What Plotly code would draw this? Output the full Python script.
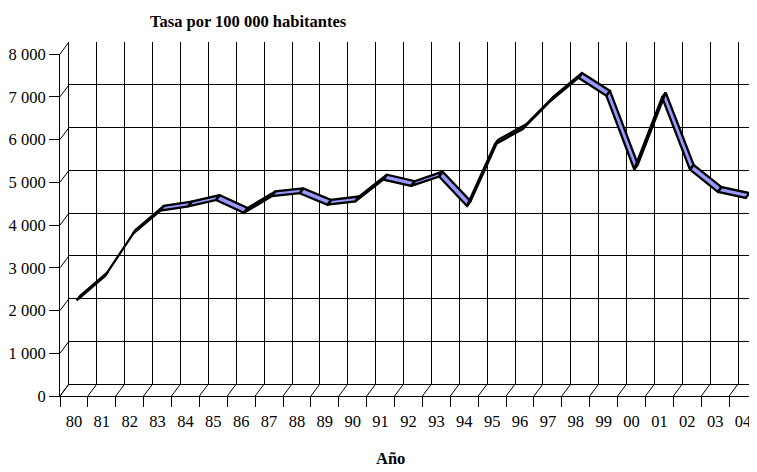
import plotly.graph_objects as go

# ---- data ----
years = ["80", "81", "82", "83", "84", "85", "86", "87", "88", "89", "90", "91", "92",
         "93", "94", "95", "96", "97", "98", "99", "00", "01", "02", "03", "04"]
rates = [2150, 2710, 3700, 4250, 4350, 4500, 4200, 4590, 4660, 4390, 4470, 4980, 4830,
         5050, 4360, 5800, 6160, 6820, 7360, 6940, 5220, 6900, 5210, 4690, 4550]
y_ticks = [0, 1000, 2000, 3000, 4000, 5000, 6000, 7000, 8000]
y_labels = ["0", "1 000", "2 000", "3 000", "4 000", "5 000", "6 000", "7 000", "8 000"]
title_text = "Tasa por 100 000 habitantes"
xaxis_title = "Año"

# ---- geometry (screen pixels) ----
SCREEN_W, SCREEN_H = 757, 472
OFF = 8                      # default page body margin
W, H = SCREEN_W - OFF, SCREEN_H - OFF
FX0, FX1 = 60, 757          # front frame x
FY0, FY1 = 396, 54          # front frame y (value 0 / value max)
DX, DY = 9, 12              # depth offset of back wall
VMAX = 8000
n = len(years)

def px(x):
    return (x - OFF) / W

def py(y):
    return (H - (y - OFF)) / H

unit_px_x = (FX1 - FX0) / n
unit_px_y = (FY0 - FY1) / VMAX
ux = DX / unit_px_x          # depth offset in category units
uy = DY / unit_px_y          # depth offset in value units

FONT = "Liberation Serif"
fig = go.Figure()

# ribbon drawn on back-wall axes, shifted toward the front
a, b = 0.3, 0.7   # ribbon depth span (fraction of depth, from front)
xs, ys = [], []
for i in range(n - 1):
    pts = [
        (i - (1 - a) * ux, rates[i] - (1 - a) * uy),
        (i + 1 - (1 - a) * ux, rates[i + 1] - (1 - a) * uy),
        (i + 1 - (1 - b) * ux, rates[i + 1] - (1 - b) * uy),
        (i - (1 - b) * ux, rates[i] - (1 - b) * uy),
        (i - (1 - a) * ux, rates[i] - (1 - a) * uy),
    ]
    for p in pts:
        xs.append(p[0]); ys.append(p[1])
    xs.append(None); ys.append(None)

fig.add_trace(go.Scatter(x=xs, y=ys, mode="lines", fill="toself",
                         fillcolor="#9999FF", line=dict(color="black", width=2.3),
                         xaxis="x2", yaxis="y2", hoverinfo="skip", showlegend=False))
# dummy trace for front axes
fig.add_trace(go.Scatter(x=[None], y=[None], xaxis="x", yaxis="y",
                         showlegend=False, hoverinfo="skip"))

boundaries = [k - 0.5 for k in range(n + 1)]

fig.update_layout(
    template="none",
    width=W, height=H,
    margin=dict(l=0, r=0, t=0, b=0, pad=0, autoexpand=False),
    paper_bgcolor="white", plot_bgcolor="rgba(0,0,0,0)",
    font=dict(family=FONT, size=16.5, color="black"),
    xaxis=dict(domain=[px(FX0), min(1, px(FX1))], range=[-0.5, n - 0.5], automargin=False,
               tickvals=list(range(n)), ticktext=years,
               ticks="outside", ticklen=10, tickcolor="rgba(0,0,0,0)",
               showline=True, linecolor="black", linewidth=1,
               showgrid=False, zeroline=False,
               minor=dict(tickvals=boundaries, ticks="outside", ticklen=10,
                          tickcolor="black", showgrid=False),
               tickfont=dict(family=FONT, size=16.5, color="black")),
    yaxis=dict(domain=[py(FY0), py(FY1)], range=[0, VMAX], automargin=False,
               tickvals=y_ticks, ticktext=y_labels,
               ticks="outside", ticklen=10, tickcolor="black",
               showline=True, linecolor="black", linewidth=1,
               showgrid=False, zeroline=False,
               tickfont=dict(family=FONT, size=16.5, color="black")),
    xaxis2=dict(domain=[px(FX0 + DX), 1], range=[-0.5, n - 0.5 - ux], automargin=False,
                anchor="y2", tickvals=boundaries[:-1], showticklabels=False,
                ticks="", showgrid=True, gridcolor="black", gridwidth=1,
                showline=True, linecolor="black", zeroline=False),
    yaxis2=dict(domain=[py(FY0 - DY), py(FY1 - DY)], range=[0, VMAX], automargin=False,
                anchor="x2", tickvals=y_ticks, showticklabels=False,
                ticks="", showgrid=True, gridcolor="black", gridwidth=1,
                showline=True, linecolor="black", zeroline=False),
)

shapes = []
# left wall diagonals
for v in y_ticks:
    yf = FY0 - v * unit_px_y
    shapes.append(dict(type="line", xref="paper", yref="paper",
                       x0=px(FX0), y0=py(yf), x1=px(FX0 + DX), y1=py(yf - DY),
                       line=dict(color="black", width=1)))
# floor diagonals
for k in boundaries:
    xf = FX0 + (k + 0.5) * unit_px_x
    shapes.append(dict(type="line", xref="paper", yref="paper",
                       x0=px(xf), y0=py(FY0), x1=px(xf + DX), y1=py(FY0 - DY),
                       line=dict(color="black", width=1)))
fig.update_layout(shapes=shapes)

fig.add_annotation(text="<b>" + title_text + "</b>", xref="paper", yref="paper",
                   x=px(249), y=py(21), xanchor="center", yanchor="middle",
                   showarrow=False, font=dict(family=FONT, size=16.5, color="black"))
fig.add_annotation(text="<b>" + xaxis_title + "</b>", xref="paper", yref="paper",
                   x=px(390), y=py(458), xanchor="center", yanchor="middle",
                   showarrow=False, font=dict(family=FONT, size=16.5, color="black"))

fig.write_html("out.html")
